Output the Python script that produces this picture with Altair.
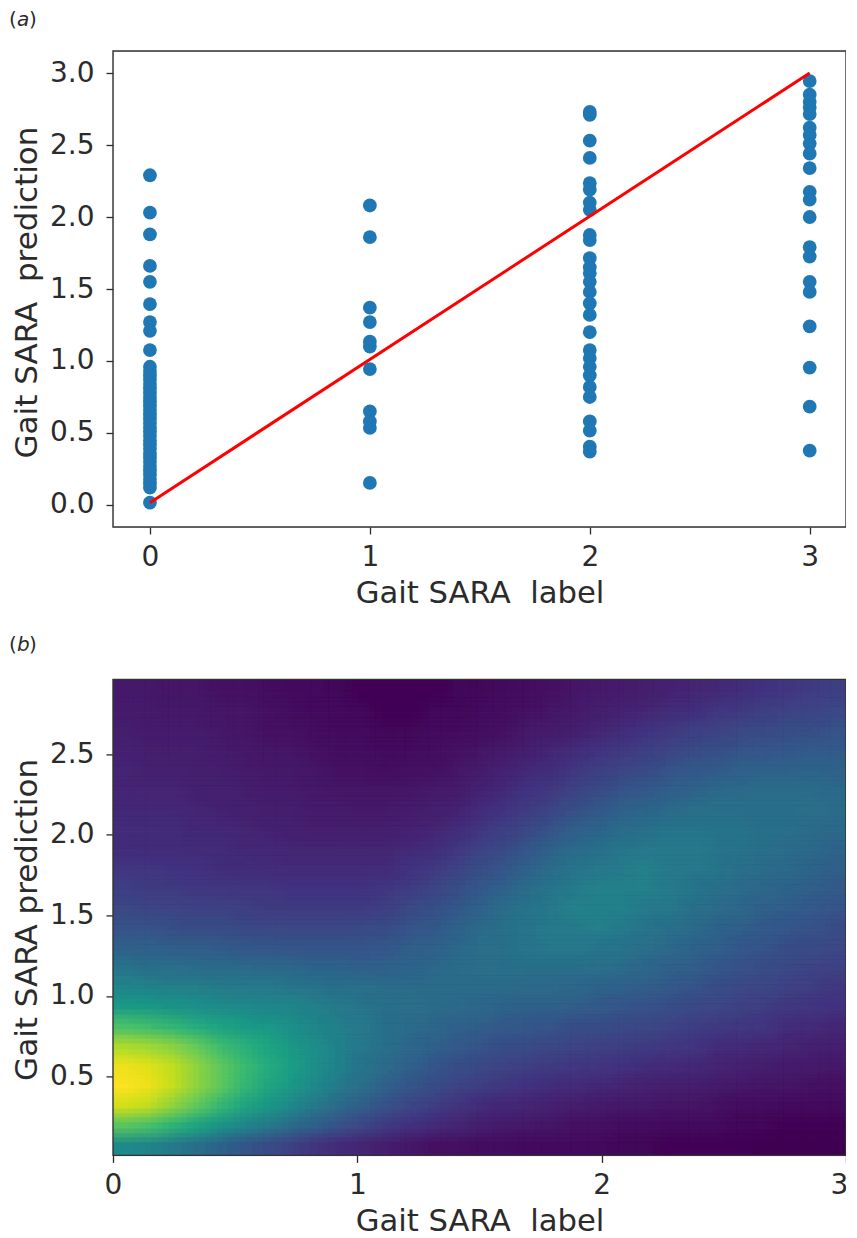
import altair as alt
import pandas as pd

alt.data_transformers.disable_max_rows()

# Panel (a): predicted score for each label value
label_0 = [2.29, 2.03, 1.88, 1.66, 1.55, 1.395, 1.27, 1.21, 1.076, 0.96, 0.93, 0.90, 0.87, 0.84, 0.81,
           0.78, 0.75, 0.72, 0.69, 0.66, 0.63, 0.60, 0.57, 0.54, 0.51, 0.48, 0.45, 0.42, 0.39, 0.36,
           0.33, 0.30, 0.27, 0.24, 0.21, 0.18, 0.15, 0.12, 0.016]
label_1 = [2.08, 1.86, 1.37, 1.27, 1.134, 1.10, 0.944, 0.65, 0.58, 0.535, 0.153]
label_2 = [2.73, 2.71, 2.53, 2.41, 2.235, 2.19, 2.10, 2.05, 1.875, 1.84, 1.715, 1.65, 1.61, 1.55, 1.48,
           1.40, 1.32, 1.20, 1.076, 1.02, 0.96, 0.90, 0.82, 0.75, 0.58, 0.516, 0.405, 0.37]
label_3 = [2.944, 2.85, 2.80, 2.76, 2.715, 2.62, 2.57, 2.51, 2.44, 2.34, 2.175, 2.12, 2.00, 1.79, 1.725,
           1.55, 1.48, 1.24, 0.954, 0.683, 0.377]
line_x = [0, 3]
line_y = [0.016, 3.0]

# Panel (b): density (0-100 on the colour scale); rows run top to bottom
density_rows = [
    [7,7,6,6,5,5,4,3,3,2,1,1,1,1,2,2,3,4,5,6,7,8,9,10,11,12,14,15,16,18,19],
    [8,8,7,7,6,6,5,4,3,3,2,1,1,2,2,3,4,5,6,7,9,10,11,13,14,16,17,19,20,21,22],
    [9,8,8,8,7,6,5,5,4,3,3,2,2,3,3,4,5,7,8,9,11,13,15,17,19,20,22,23,24,25,26],
    [10,9,9,9,8,7,6,6,5,4,4,3,3,4,5,6,7,9,11,13,15,17,19,21,23,25,26,27,28,29,29],
    [11,10,10,9,9,8,7,7,6,5,5,4,5,5,6,8,10,12,14,16,19,21,23,26,28,29,31,32,32,33,32],
    [11,11,11,10,10,9,8,8,7,6,6,6,6,7,8,10,12,15,17,20,23,26,28,30,32,34,35,36,36,36,35],
    [12,12,12,11,10,10,9,9,8,8,7,7,8,9,10,13,15,18,21,25,28,31,33,35,37,38,38,38,38,37,36],
    [13,13,13,12,12,11,10,10,9,9,9,9,10,11,13,16,19,22,26,30,33,36,38,39,39,39,39,38,38,36,35],
    [14,14,14,13,13,12,12,11,11,11,11,11,12,14,16,20,23,27,31,35,38,40,41,41,41,40,39,38,36,35,33],
    [16,16,15,15,14,14,13,13,13,13,13,13,15,17,20,24,27,32,36,39,41,42,43,42,41,40,38,36,35,33,31],
    [19,18,18,17,17,16,16,15,15,15,15,16,18,21,24,28,32,36,39,42,43,44,43,42,40,38,36,34,33,31,29],
    [22,21,21,20,20,19,18,18,18,18,18,19,22,25,28,32,36,39,41,43,44,44,42,41,38,36,34,32,30,29,27],
    [26,26,25,24,24,23,22,22,22,22,23,24,26,28,32,35,38,40,42,42,43,42,40,38,36,33,31,29,28,26,25],
    [32,31,30,30,29,28,28,27,27,27,27,28,30,32,34,37,38,40,41,41,40,39,37,35,33,31,28,27,25,24,22],
    [39,38,37,36,35,35,34,34,33,33,32,32,33,34,36,37,38,38,38,38,37,36,34,32,30,28,26,24,23,21,20],
    [46,45,44,43,42,41,41,40,39,38,37,36,36,36,36,36,36,35,35,34,33,32,30,29,27,25,23,22,20,19,17],
    [56,55,53,51,49,48,47,46,44,42,40,38,37,36,35,34,33,32,31,30,29,28,26,25,23,22,20,19,17,16,15],
    [72,70,67,63,59,56,54,51,47,44,41,38,36,34,32,30,29,28,27,25,24,23,22,21,19,18,17,16,14,13,12],
    [88,86,83,77,70,65,60,55,50,45,41,38,34,32,29,27,25,24,22,21,20,19,18,17,16,14,13,12,11,10,9],
    [98,96,91,84,76,69,63,57,51,45,40,36,32,28,25,23,21,19,18,17,16,15,14,13,12,11,10,9,8,8,7],
    [100,98,92,84,76,68,61,55,48,42,37,32,28,25,21,19,17,15,14,13,12,11,10,9,9,8,7,6,6,5,5],
    [94,91,84,76,68,61,54,48,41,36,31,26,22,19,16,14,12,11,10,9,8,7,7,6,6,5,4,4,3,3,3],
    [75,72,66,60,53,47,41,36,31,26,22,18,15,13,11,9,8,7,6,5,5,4,4,3,3,3,2,2,1,1,1],
    [48,46,42,38,33,28,24,20,16,13,11,9,7,5,5,4,4,3,3,3,3,2,2,1,1,1,1,0,0,0,0],
]
x_ticks = [0, 1, 2, 3]
y_ticks_a = [0.0, 0.5, 1.0, 1.5, 2.0, 2.5, 3.0]
y_ticks_b = [0.5, 1.0, 1.5, 2.0, 2.5]
x_title = "Gait SARA\u00a0 label"
y_title_a = "Gait SARA\u00a0 prediction"
y_title_b = "Gait SARA prediction"

W, H = 733, 476
FONT = "DejaVu Sans"
INK = "#2b2b2b"


def x_axis(title, values, **kw):
    return alt.Axis(title=title, values=values, format="d", grid=False, domain=False,
                    tickSize=7, tickWidth=1.3, tickColor=INK, labelFont=FONT, labelFontSize=28,
                    labelColor=INK, titleFont=FONT, titleFontSize=30.7, titleFontWeight="normal",
                    titleColor=INK, labelPadding=9, titlePadding=7, labelFlush=False, **kw)


def y_axis(title, values, title_y):
    return alt.Axis(title=title, values=values, format=".1f", grid=False, domain=False,
                    tickSize=7, tickWidth=1.3, tickColor=INK, labelFont=FONT, labelFontSize=28,
                    labelColor=INK, titleFont=FONT, titleFontSize=31, titleFontWeight="normal",
                    titleColor=INK, labelPadding=12, titlePadding=5.5, labelFlush=False, titleY=title_y)


one = alt.InlineData(values=[{"k": 1}])


def frame():
    return alt.Chart(one).mark_rect(fill=None, stroke="#333333", strokeWidth=1.4, clip=False).encode(
        x=alt.value(0), x2=alt.value(W), y=alt.value(0), y2=alt.value(H))


def tag(letter, y):
    parts = [("(", "normal", -104), (letter, "italic", -96), (")", "normal", -84)]
    return [alt.Chart(one).mark_text(text=t, font=FONT, fontStyle=s, fontSize=20, align="left",
                                     baseline="top", color=INK).encode(x=alt.value(px), y=alt.value(y))
            for t, s, px in parts]


pts = pd.DataFrame(
    [{"x": 0, "y": v} for v in label_0] + [{"x": 1, "y": v} for v in label_1]
    + [{"x": 2, "y": v} for v in label_2] + [{"x": 3, "y": v} for v in label_3])
line = pd.DataFrame({"x": line_x, "y": line_y})

xa = alt.X("x:Q", scale=alt.Scale(domain=[-0.168, 3.165], nice=False, zero=False),
           axis=x_axis(x_title, x_ticks))
ya = alt.Y("y:Q", scale=alt.Scale(domain=[-0.153, 3.153], nice=False, zero=False),
           axis=y_axis(y_title_a, y_ticks_a, 241))

scatter = alt.Chart(pts).mark_circle(size=190, opacity=1, color="#1f77b4").encode(x=xa, y=ya)
red = alt.Chart(line).mark_line(color="#ff0000", strokeWidth=3).encode(x="x:Q", y="y:Q")
top = alt.layer(scatter, red, frame(), *tag("a", -41)).properties(width=W, height=H)

n_rows, n_cols = len(density_rows), len(density_rows[0])
y_lo, y_hi = 0.01, 2.965
x_shifts = [-9, -3, 3, 9]
y_shifts = [-7, -2, 2, 7]
cells = []
k = 0
for sx in x_shifts:
    for sy in y_shifts:
        k += 1
        for r, row in enumerate(density_rows):
            for c, v in enumerate(row):
                px0 = round(c * W / n_cols) + sx if c else -20
                px1 = round((c + 1) * W / n_cols) + sx if c < n_cols - 1 else W + 20
                py0 = round(r * H / n_rows) + sy if r else -20
                py1 = round((r + 1) * H / n_rows) + sy if r < n_rows - 1 else H + 20
                cells.append({
                    "x0": round(px0 / W * 3, 6), "x1": round(px1 / W * 3, 6),
                    "y1": round(y_hi - (y_hi - y_lo) * py0 / H, 6), "y0": round(y_hi - (y_hi - y_lo) * py1 / H, 6),
                    "d": v, "o": round(1 / k, 4),
                })
cells = pd.DataFrame(cells)
heat = alt.Chart(cells).mark_rect(clip=True).encode(
    x=alt.X("x0:Q", scale=alt.Scale(domain=[0, 3], nice=False, zero=False),
            axis=x_axis(x_title, x_ticks,
                        labelOffset={"condition": {"test": "datum.value === 3", "value": -7}, "value": 0})),
    x2="x1:Q",
    y=alt.Y("y0:Q", scale=alt.Scale(domain=[y_lo, y_hi], nice=False, zero=False),
            axis=y_axis(y_title_b, y_ticks_b, 240)),
    y2="y1:Q",
    color=alt.Color("d:Q", scale=alt.Scale(scheme="viridis", domain=[0, 100]), legend=None),
    opacity=alt.Opacity("o:Q", scale=None, legend=None),
)
bottom = alt.layer(heat, frame(), *tag("b", -44)).properties(width=W, height=H)

chart = (alt.vconcat(top, bottom, spacing=25.4)
         .properties(padding={"left": 0, "top": 1, "right": -3.5, "bottom": 0})
         .configure_view(stroke=None).configure(background="white"))
chart.save("out.html", embed_options={"renderer": "svg", "actions": False})
